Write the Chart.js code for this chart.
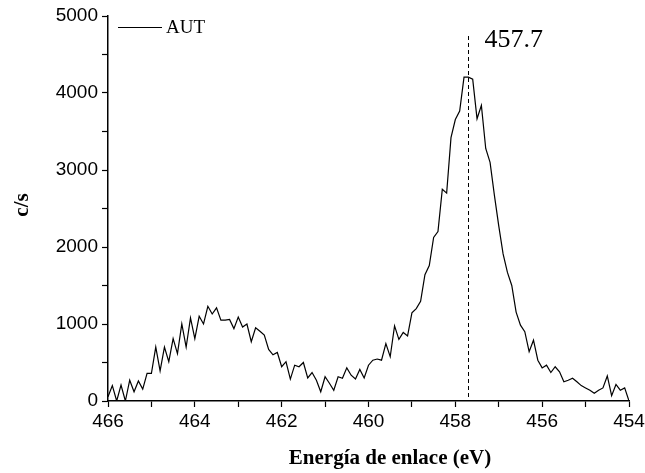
<!DOCTYPE html>
<html>
<head>
<meta charset="utf-8">
<script src="https://cdn.jsdelivr.net/npm/chart.js@4/dist/chart.umd.min.js"></script>
<style>
	body { margin: 0; background: #fff; }
	#wrap { width: 645px; height: 473px; position: relative; }
</style>
</head>
<body>
<div id="wrap"><canvas id="xpsChart"></canvas></div>
<script>
// Binding energy (eV), step 0.1
const energies = [
	466.0, 465.9, 465.8, 465.7, 465.6, 465.5, 465.4, 465.3, 465.2, 465.1,
	465.0, 464.9, 464.8, 464.7, 464.6, 464.5, 464.4, 464.3, 464.2, 464.1,
	464.0, 463.9, 463.8, 463.7, 463.6, 463.5, 463.4, 463.3, 463.2, 463.1,
	463.0, 462.9, 462.8, 462.7, 462.6, 462.5, 462.4, 462.3, 462.2, 462.1,
	462.0, 461.9, 461.8, 461.7, 461.6, 461.5, 461.4, 461.3, 461.2, 461.1,
	461.0, 460.9, 460.8, 460.7, 460.6, 460.5, 460.4, 460.3, 460.2, 460.1,
	460.0, 459.9, 459.8, 459.7, 459.6, 459.5, 459.4, 459.3, 459.2, 459.1,
	459.0, 458.9, 458.8, 458.7, 458.6, 458.5, 458.4, 458.3, 458.2, 458.1,
	458.0, 457.9, 457.8, 457.7, 457.6, 457.5, 457.4, 457.3, 457.2, 457.1,
	457.0, 456.9, 456.8, 456.7, 456.6, 456.5, 456.4, 456.3, 456.2, 456.1,
	456.0, 455.9, 455.8, 455.7, 455.6, 455.5, 455.4, 455.3, 455.2, 455.1,
	455.0, 454.9, 454.8, 454.7, 454.6, 454.5, 454.4, 454.3, 454.2, 454.1,
	454.0
];

// Counts per second (AUT)
const counts = [
	55, 200, 0, 207, 0, 270, 120, 260, 155, 360,
	360, 700, 390, 700, 510, 810, 615, 1000, 700, 1080,
	810, 1100, 1000, 1230, 1130, 1210, 1050, 1050, 1060, 940,
	1090, 960, 1000, 770, 950, 905, 855, 670, 600, 630,
	445, 510, 285, 465, 445, 500, 300, 370, 270, 120,
	315, 230, 140, 315, 295, 430, 335, 285, 410, 300,
	465, 530, 545, 530, 745, 575, 975, 800, 890, 845,
	1145, 1200, 1295, 1640, 1760, 2125, 2200, 2750, 2700, 3420,
	3655, 3765, 4205, 4205, 4180, 3665, 3840, 3280, 3100, 2670,
	2275, 1910, 1670, 1500, 1155, 985, 900, 640, 790, 530,
	430, 465, 370, 445, 380, 250, 270, 295, 250, 200,
	170, 140, 100, 140, 170, 325, 70, 215, 140, 170,
	0
];

const seriesName = 'AUT';
const peakLabels = ['457.7'];
const peakPositions = [457.7];

const xTitle = 'Energía de enlace (eV)';
const yTitle = 'c/s';

const points = [];
for (var i = 0; i < energies.length; i++) {
	points.push({ x: energies[i], y: counts[i] });
}

const tickFont = { family: '"Liberation Sans", Arial, sans-serif', size: 19 };

// Legend, peak marker and axis titles
const decorations = {
	id: 'decorations',
	afterDatasetsDraw(chart) {
		const ctx = chart.ctx;
		const xs = chart.scales.x;
		const ys = chart.scales.y;
		ctx.save();

		// peak marker
		ctx.strokeStyle = '#000';
		ctx.lineWidth = 1;
		ctx.setLineDash([4, 3]);
		for (var i = 0; i < peakPositions.length; i++) {
			const px = Math.round(xs.getPixelForValue(peakPositions[i])) + 0.5;
			ctx.beginPath();
			ctx.moveTo(px, 36);
			ctx.lineTo(px, ys.bottom);
			ctx.stroke();
			ctx.fillStyle = '#000';
			ctx.font = '26px "Liberation Serif", "Times New Roman", serif';
			ctx.textBaseline = 'alphabetic';
			ctx.textAlign = 'left';
			ctx.fillText(peakLabels[i], px + 16, 47);
		}
		ctx.setLineDash([]);

		// legend
		ctx.lineWidth = 1.2;
		ctx.beginPath();
		ctx.moveTo(118, 27.5);
		ctx.lineTo(162, 27.5);
		ctx.stroke();
		ctx.font = '19px "Liberation Serif", "Times New Roman", serif';
		ctx.textBaseline = 'middle';
		ctx.fillText(seriesName, 166, 28);

		// axis titles
		ctx.font = 'bold 21px "Liberation Serif", "Times New Roman", serif';
		ctx.textAlign = 'center';
		ctx.fillText(xTitle, 390, 459);
		ctx.translate(23, 205);
		ctx.rotate(-Math.PI / 2);
		ctx.fillText(yTitle, 0, 0);
		ctx.restore();
	}
};

new Chart(document.getElementById('xpsChart'), {
	type: 'line',
	data: {
		datasets: [
			{
				label: seriesName,
				data: points,
				borderColor: '#000',
				borderWidth: 1.2,
				pointRadius: 0,
				tension: 0,
				fill: false
			}
		]
	},
	options: {
		responsive: true,
		maintainAspectRatio: false,
		animation: false,
		layout: { padding: { top: 16, right: 16, left: 0, bottom: 0 } },
		plugins: {
			legend: { display: false },
			tooltip: { enabled: false }
		},
		scales: {
			x: {
				type: 'linear',
				reverse: true,
				min: 454,
				max: 466,
				afterFit: (scale) => {
					scale.height = 72;
					scale.paddingLeft = 0;
					scale.paddingRight = 0;
				},
				border: { display: true, color: '#000', width: 1.5 },
				grid: { drawOnChartArea: false, drawTicks: true, tickLength: 6, color: '#000', tickWidth: 1.2 },
				ticks: {
					stepSize: 1,
					autoSkip: false,
					maxRotation: 0,
					color: '#000',
					font: tickFont,
					padding: 3,
					callback: (v) => (v % 2 === 0 ? String(v) : '')
				}
			},
			y: {
				min: 0,
				max: 5000,
				afterFit: (scale) => {
					scale.width = 108;
					scale.paddingTop = 0;
					scale.paddingBottom = 0;
				},
				border: { display: true, color: '#000', width: 1.5 },
				grid: { drawOnChartArea: false, drawTicks: true, tickLength: 6, color: '#000', tickWidth: 1.2 },
				ticks: {
					stepSize: 500,
					autoSkip: false,
					color: '#000',
					font: tickFont,
					padding: 4,
					callback: (v) => (v % 1000 === 0 ? String(v) : '')
				}
			}
		}
	},
	plugins: [ decorations ]
});
</script>
</body>
</html>
